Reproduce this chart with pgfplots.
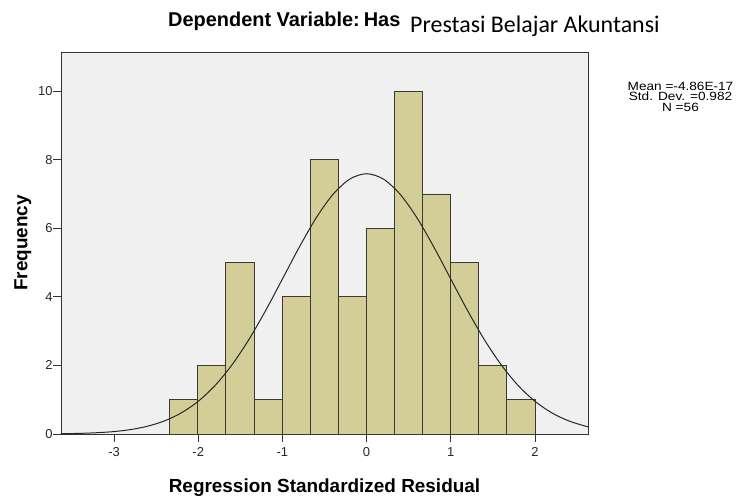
\documentclass[border=0pt]{standalone}
\usepackage{fontspec}
\setmainfont{Liberation Sans}
\newfontfamily\calibri{Carlito}
\usepackage{pgfplots}
\pgfplotsset{compat=1.18}

\definecolor{plotbg}{HTML}{F0F0F0}
\definecolor{barfill}{HTML}{D3CE97}
\definecolor{baredge}{HTML}{3A3A30}
\definecolor{frame}{HTML}{333333}

\begin{document}
\begin{tikzpicture}
% page frame: 739 x 497
\path (-61bp,-63bp) rectangle (678bp,434bp);
\begin{axis}[
    at={(0,0)}, anchor=south west,
    scale only axis,
    width=527bp, height=382bp,
    xmin=-3.63, xmax=2.63,
    ymin=0, ymax=11.14,
    axis background/.style={fill=plotbg},
    axis line style={draw=frame, line width=0.9pt},
    xtick={-3,-2,-1,0,1,2},
    ytick={0,2,4,6,8,10},
    xtick pos=bottom, ytick pos=left,
    tick align=outside,
    major tick length=7.5bp,
    tick style={draw=frame, line width=0.9pt},
    /pgf/number format/assume math mode=true,
    tick label style={font=\fontsize{13}{13}\selectfont, text=black!85},
    xticklabel style={yshift=-2.5bp},
    yticklabel style={xshift=2.5bp},
    xlabel={\bfseries Regression Standardized Residual},
    ylabel={\bfseries Frequency},
    label style={font=\fontsize{19}{19}\selectfont},
    xlabel style={yshift=-15bp},
    ylabel style={yshift=0bp},
    clip=false,
]

% histogram of residuals (bin width 0.3338)
\addplot[ybar interval, fill=barfill, draw=baredge, line width=0.8pt]
coordinates {
    (-2.339,1) (-2.006,2) (-1.672,5) (-1.338,1) (-1.004,4)
    (-0.670,8) (-0.337,4) (-0.003,6) (0.331,10) (0.665,7)
    (0.999,5) (1.332,2) (1.666,1) (2.000,0)
};

% fitted normal curve
\addplot[smooth, draw=black!85, line width=1pt]
coordinates {
    (-3.63,0.008) (-3.4,0.019) (-3.2,0.038) (-3.0,0.071) (-2.8,0.130)
    (-2.6,0.228) (-2.4,0.383) (-2.2,0.617) (-2.0,0.954) (-1.8,1.415)
    (-1.6,2.013) (-1.4,2.747) (-1.2,3.597) (-1.0,4.519) (-0.8,5.447)
    (-0.6,6.298) (-0.4,6.986) (-0.2,7.434) (0.0,7.590) (0.2,7.434)
    (0.4,6.986) (0.6,6.298) (0.8,5.447) (1.0,4.519) (1.2,3.597)
    (1.4,2.747) (1.6,2.013) (1.8,1.415) (2.0,0.954) (2.2,0.617)
    (2.4,0.383) (2.6,0.228) (2.63,0.210)
};
\end{axis}

% title
\node[anchor=base west, inner sep=0, font=\bfseries\fontsize{20}{20}\selectfont]
    at (107bp,407bp) {Dependent Variable:\kern-1.5bp\ Has};
\node[anchor=base west, inner sep=0, font=\calibri\fontsize{24}{24}\selectfont]
    at (349bp,401bp) {Prestasi Belajar Akuntansi};

% summary statistics
\node[align=center, inner sep=0, xscale=1.14, transform shape,
      font=\fontsize{12}{10.5}\selectfont]
    at (619.5bp,337.5bp) {Mean =-4.86E-17\\Std. Dev. =0.982\\N =56};
\end{tikzpicture}
\end{document}
